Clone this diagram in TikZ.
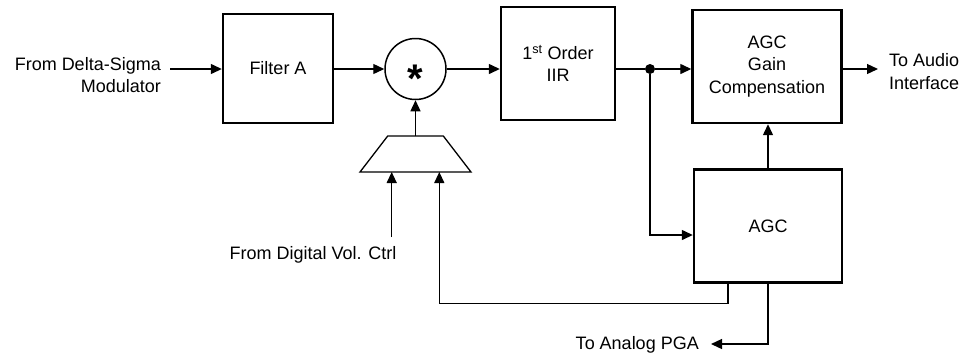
\documentclass[tikz,border=0pt]{standalone}
\usepackage{fontspec}
\setmainfont{Liberation Sans}
\usepackage{tikz}
\usetikzlibrary{arrows.meta}
\tikzset{
  block/.style={draw, line width=2.4pt, inner sep=0pt, align=center},
  sig/.style={line width=1.3pt, -{Triangle[length=11pt,width=10pt]}},
  wire/.style={line width=1.3pt},
  lbl/.style={inner sep=0pt, align=center}
}
\begin{document}
\begin{tikzpicture}[x=1pt,y=-1pt,font=\fontsize{18}{22.5}\selectfont]
\useasboundingbox (0,0) rectangle (966,360);
% blocks
\node[block, minimum width=110pt, minimum height=109pt] (filterA) at (278,68.5) {Filter A};
\node[draw, circle, line width=1.5pt, minimum size=61pt, inner sep=0pt] (mult) at (415.5,69) {};
\node[lbl, anchor=base] (star) at (415.5,92) {\fontsize{40}{40}\selectfont\bfseries *};
% scaler (trapezoid)
\draw[line width=1.3pt, line join=miter] (387.7,136) -- (443.3,136) -- (471,172) -- (360,172) -- cycle;
\coordinate (muxtop) at (415.5,136);
\coordinate (muxinA) at (391.7,172);
\coordinate (muxinB) at (439.3,172);
\node[block, minimum width=114pt, minimum height=113pt] (iir) at (558,63.5) {1\textsuperscript{st} Order\\IIR};
\node[block, minimum width=149pt, minimum height=113pt] (agcgain) at (767,66.5) {AGC\\Gain\\Compensation};
\node[block, minimum width=148pt, minimum height=113pt] (agc) at (768,226) {AGC};
\node[circle, fill=black, inner sep=0pt, minimum size=10pt] (dot) at (650,69) {};
% labels
\node[lbl, align=right, anchor=east] (inlbl) at (161,75) {From Delta-Sigma\\Modulator};
\node[lbl, align=left, anchor=west] (outlbl) at (889,71.5) {To Audio\\Interface};
\node[lbl] (vollbl) at (313,255) {From Digital Vol. Ctrl};
\node[lbl, anchor=east] (pgalbl) at (699,345) {To Analog PGA};
\coordinate (inend) at (170,69);
\coordinate (outtip) at (878,69);
\coordinate (volsrc) at (391.7,237);
\coordinate (pgatip) at (711,344);
% connectors
\draw[sig] (inend) -- (filterA.west |- inend);
\draw[sig] (filterA.east |- mult) -- (mult.west);
\draw[sig] (muxtop) -- (mult.south);
\draw[sig] (mult.east) -- (mult.east -| iir.west);
\draw[wire] (iir.east |- dot) -- (dot);
\draw[sig] (dot) -- (dot -| agcgain.west);
\draw[sig] (dot) |- ([yshift=-9pt]agc.west);
\draw[sig] (agc.north) -- (agc.north |- agcgain.south);
\draw[sig] (agcgain.east |- outtip) -- (outtip);
\draw[sig] (volsrc) -- (muxinA);
\draw[sig] ([xshift=-40pt]agc.south) -- ++(0,20) -| (muxinB);
\draw[sig] (agc.south) |- (pgatip);
\end{tikzpicture}
\end{document}
